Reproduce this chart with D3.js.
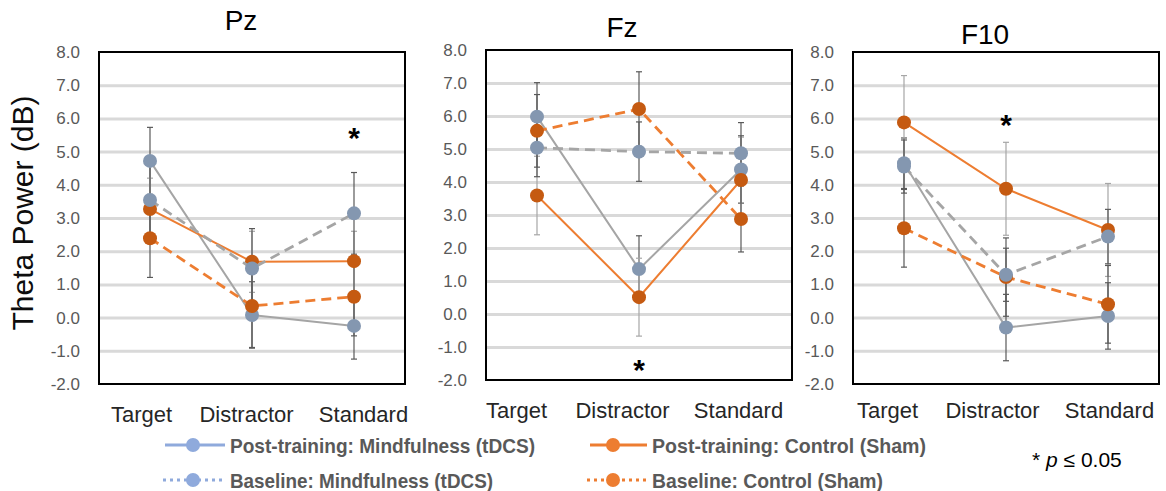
<!DOCTYPE html>
<html>
<head>
<meta charset="utf-8">
<script src="https://cdn.jsdelivr.net/npm/d3@7"></script>
<style>
  body { margin: 0; background: #fff; }
  svg { display: block; font-family: "Liberation Sans", Arial, sans-serif; }
</style>
</head>
<body>
<div id="chart"></div>
<script>
var categories = ["Target", "Distractor", "Standard"];
var electrodes = ["Pz", "Fz", "F10"];
var yTicks = [-2, -1, 0, 1, 2, 3, 4, 5, 6, 7, 8];
var gridTicks = [-1, 0, 1, 2, 3, 4, 5, 6, 7];

// rows: Pz, Fz, F10 -- columns: Target, Distractor, Standard
var postMindfulness = [[4.72, 0.08, -0.25], [5.98, 1.36, 4.38], [4.65, -0.30, 0.05]];
var baseMindfulness = [[3.54, 1.48, 3.14], [5.04, 4.92, 4.87], [4.55, 1.29, 2.44]];
var postControl = [[3.27, 1.68, 1.70], [3.59, 0.51, 4.06], [5.88, 3.88, 2.64]];
var baseControl = [[2.39, 0.35, 0.63], [5.55, 6.21, 2.88], [2.69, 1.22, 0.40]];

// error bar half-lengths, same layout
var postMindfulnessErr = [[1.01, 1.00, 1.00], [1.03, 1.01, 1.02], [0.76, 1.00, 1.00]];
var baseMindfulnessErr = [[1.18, 1.20, 1.23], [0.88, 0.90, 0.93], [0.80, 0.80, 0.82]];
var postControlErr = [[0.93, 0.92, 0.90], [1.19, 1.18, 1.30], [1.41, 1.40, 1.40]];
var baseControlErr = [[1.18, 1.25, 1.18], [1.10, 1.13, 1.00], [1.17, 1.18, 1.17]];

// significance stars: electrode, category, height (dB)
var stars = [["Pz", "Standard", 5.65], ["Fz", "Distractor", -1.45], ["F10", "Distractor", 6.05]];

var seriesNames = [
  "Post-training: Mindfulness (tDCS)",
  "Post-training: Control (Sham)",
  "Baseline: Control (Sham)",
  "Baseline: Mindfulness (tDCS)"
];

// drawing order: post mind, post control, baseline control, baseline mind
var series = [
  {name: seriesNames[0], values: postMindfulness, err: postMindfulnessErr, line: "#a5a5a5", marker: "#8497b0", dash: null, errColor: "#595959", legend: "#8faadc"},
  {name: seriesNames[1], values: postControl, err: postControlErr, line: "#ed7d31", marker: "#c55a11", dash: null, errColor: "#a6a6a6", legend: "#ed7d31"},
  {name: seriesNames[2], values: baseControl, err: baseControlErr, line: "#ed7d31", marker: "#c55a11", dash: "10,6", errColor: "#595959", legend: "#ed7d31"},
  {name: seriesNames[3], values: baseMindfulness, err: baseMindfulnessErr, line: "#a5a5a5", marker: "#8497b0", dash: "10,6", errColor: "#595959", legend: "#8faadc"}
];

var layout = [
  {left: 99, right: 405, top: 52, bottom: 384, tx: 241, ty: 30, labelY: 38, labelDx: [-9, -6, 9]},
  {left: 486, right: 792, top: 50, bottom: 380, tx: 622, ty: 37, labelY: 38, labelDx: [-21, -17, -3]},
  {left: 853, right: 1159, top: 52, bottom: 384, tx: 985, ty: 44, labelY: 34, labelDx: [-17, -14, 1]}
];

var svg = d3.select("#chart").append("svg")
    .attr("width", 1166)
    .attr("height", 491);

electrodes.forEach(function(el, p) {
    var L = layout[p];
    var x = d3.scalePoint().domain(categories).range([L.left, L.right]).padding(0.5);
    var y = d3.scaleLinear().domain([-2, 8]).range([L.bottom, L.top]);
    var g = svg.append("g");

    // grid
    g.append("g")
        .attr("transform", "translate(" + L.left + ",0)")
        .call(d3.axisLeft(y).tickValues(gridTicks).tickSize(-(L.right - L.left)).tickFormat(""))
        .call(function(a) {
            a.select(".domain").remove();
            a.selectAll("line").attr("stroke", "#d9d9d9").attr("stroke-width", 3);
        });

    // y tick labels
    g.append("g")
        .attr("transform", "translate(" + L.left + ",0)")
        .call(d3.axisLeft(y).tickValues(yTicks).tickSize(0).tickPadding(19)
            .tickFormat(function(d) { return d.toFixed(1); }))
        .call(function(a) {
            a.select(".domain").remove();
            a.selectAll("text").attr("fill", "#595959").style("font-size", "17px")
                .style("font-family", "'Liberation Sans', Arial, sans-serif");
        });

    // x labels
    g.append("g")
        .attr("transform", "translate(0," + L.bottom + ")")
        .call(d3.axisBottom(x).tickSize(0))
        .call(function(a) {
            a.select(".domain").remove();
            a.selectAll("text")
                .attr("y", L.labelY).attr("dy", 0)
                .attr("dx", function(d, i) { return L.labelDx[i]; })
                .attr("fill", "#262626").style("font-size", "22px")
                .style("font-family", "'Liberation Sans', Arial, sans-serif");
        });

    // frame
    g.append("rect")
        .attr("x", L.left).attr("y", L.top)
        .attr("width", L.right - L.left).attr("height", L.bottom - L.top)
        .attr("fill", "none").attr("stroke", "#000").attr("stroke-width", 2);

    // title
    g.append("text")
        .attr("x", L.tx).attr("y", L.ty)
        .attr("text-anchor", "middle")
        .style("font-size", "28px")
        .attr("fill", "#000")
        .text(el);

    // error bars
    series.forEach(function(s) {
        var eg = g.append("g").attr("stroke", s.errColor).attr("stroke-width", 1.2);
        categories.forEach(function(c, i) {
            var v = s.values[p][i], e = s.err[p][i];
            var cx = x(c);
            eg.append("line").attr("x1", cx).attr("x2", cx).attr("y1", y(v - e)).attr("y2", y(v + e));
            eg.append("line").attr("x1", cx - 3).attr("x2", cx + 3).attr("y1", y(v - e)).attr("y2", y(v - e));
            eg.append("line").attr("x1", cx - 3).attr("x2", cx + 3).attr("y1", y(v + e)).attr("y2", y(v + e));
        });
    });

    var line = d3.line()
        .x(function(d, i) { return x(categories[i]); })
        .y(function(d) { return y(d); });

    series.forEach(function(s) {
        g.append("path")
            .datum(s.values[p])
            .attr("d", line)
            .attr("fill", "none")
            .attr("stroke", s.line)
            .attr("stroke-width", s.dash ? 2.8 : 2)
            .attr("stroke-dasharray", s.dash);
        g.selectAll(null)
            .data(s.values[p])
            .enter().append("circle")
            .attr("cx", function(d, i) { return x(categories[i]); })
            .attr("cy", function(d) { return y(d); })
            .attr("r", 7)
            .attr("fill", s.marker);
    });

    stars.filter(function(st) { return st[0] === el; }).forEach(function(st) {
        g.append("text")
            .attr("x", x(st[1])).attr("y", y(st[2]))
            .attr("dy", "0.6em")
            .attr("text-anchor", "middle")
            .style("font-size", "30px")
            .style("font-weight", "bold")
            .text("*");
    });
});

// y axis title
svg.append("text")
    .attr("transform", "translate(33,213) rotate(-90)")
    .attr("text-anchor", "middle")
    .style("font-size", "30px")
    .attr("fill", "#0d0d0d")
    .text("Theta Power (dB)");

// legend
var legendItems = [
  {s: 0, x1: 165, x2: 225, mx: 193, tx: 230, y: 445, tw: 305},
  {s: 1, x1: 590, x2: 647, mx: 613, tx: 652, y: 445, tw: 274},
  {s: 3, x1: 163, x2: 225, mx: 193, tx: 230, y: 480, tw: 263},
  {s: 2, x1: 587, x2: 647, mx: 613, tx: 652, y: 480, tw: 231}
];

var lg = svg.append("g");
legendItems.forEach(function(it) {
    var s = series[it.s];
    lg.append("line")
        .attr("x1", it.x1).attr("x2", it.x2).attr("y1", it.y).attr("y2", it.y)
        .attr("stroke", s.legend).attr("stroke-width", 3)
        .attr("stroke-dasharray", s.dash ? "3,4" : null);
    lg.append("circle").attr("cx", it.mx).attr("cy", it.y).attr("r", 7).attr("fill", s.legend);
    lg.append("text")
        .attr("x", it.tx).attr("y", it.y).attr("dy", "0.36em")
        .attr("textLength", it.tw).attr("lengthAdjust", "spacingAndGlyphs")
        .attr("fill", "#595959")
        .style("font-size", "21px")
        .style("font-weight", "bold")
        .text(s.name);
});

var pt = svg.append("text")
    .attr("x", 1032).attr("y", 467)
    .style("font-size", "21px")
    .attr("fill", "#000");
pt.append("tspan").text("* ");
pt.append("tspan").style("font-style", "italic").text("p");
pt.append("tspan").text(" \u2264 0.05");
</script>
</body>
</html>
